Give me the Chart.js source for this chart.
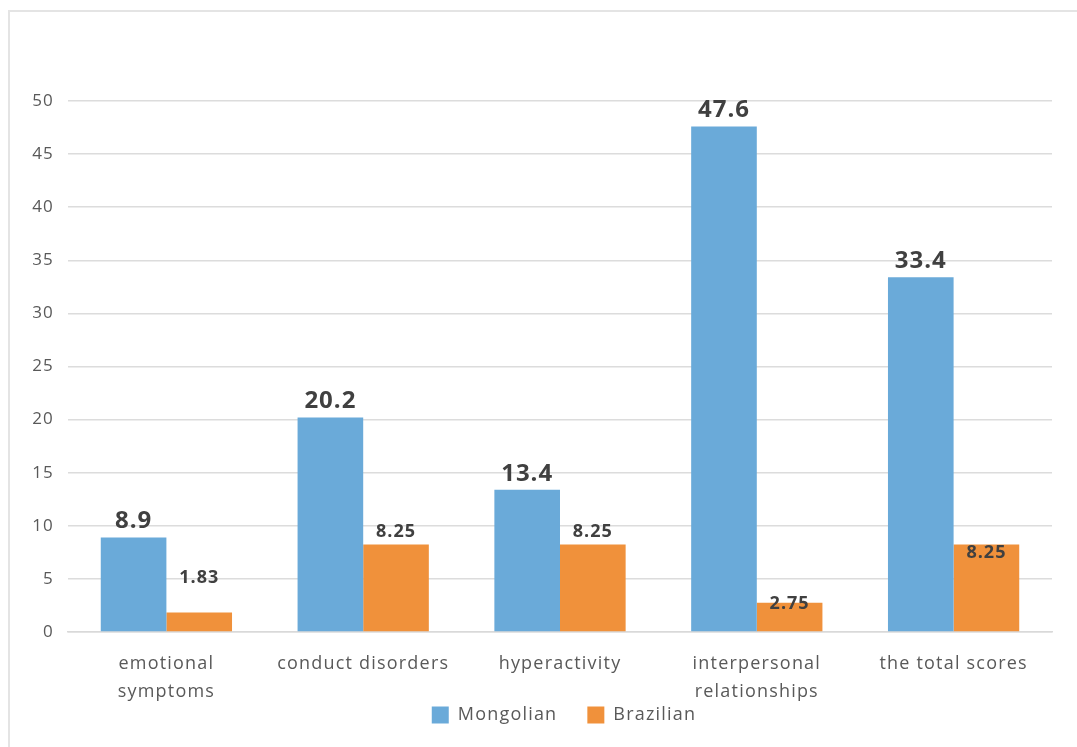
<!DOCTYPE html>
<html>
<head>
<meta charset="utf-8">
<script src="https://cdn.jsdelivr.net/npm/chart.js@4/dist/chart.umd.min.js"></script>
<style>
  html, body { margin: 0; padding: 0; background: #ffffff; }
  #wrap { position: relative; width: 1077px; height: 747px; overflow: hidden; }
  #frame { position: absolute; left: 8px; top: 10px; width: 1090px; height: 760px;
           border-left: 2px solid #e4e4e4; border-top: 2px solid #e4e4e4; box-sizing: border-box; }
  #chart { position: absolute; left: 0; top: 0; }
</style>
</head>
<body>
<div id="wrap">
  <div id="frame"></div>
  <canvas id="chart" width="1077" height="747"></canvas>
</div>
<script>
// Subscale names (multi-line where the axis wraps them)
const categories = [
  ["emotional", "symptoms"],
  "conduct disorders",
  "hyperactivity",
  ["interpersonal", "relationships"],
  "the total scores"
];
// Scores per group
const mongolian = [8.9, 20.2, 13.4, 47.6, 33.4];
const brazilian = [1.83, 8.25, 8.25, 2.75, 8.25];
// Y-axis range and step
const yMin = 0, yMax = 50, yStep = 5;

// Vertical nudge of each value label relative to its bar top (px)
const mongolianLabelShift = [-16, -16, -16, -16, -16];
const brazilianLabelShift = [-35, -13, -13, 1, 8];

const FONT = "'Open Sans', 'Noto Sans', sans-serif";
const TEXT_GREY = "#595959";
const LABEL_DARK = "#404040";
const TRACKING = "1.2px";
const LEGEND_OFFSET_X = 38;

// Slightly wider text tracking for all canvas text, plus small box adjustments
const spacingPlugin = {
  id: "spacing",
  beforeUpdate(chart) { chart.ctx.letterSpacing = TRACKING; },
  beforeDraw(chart) { chart.ctx.letterSpacing = TRACKING; },
  afterLayout(chart) {
    // let the two-line category labels run below the (short) x-axis box
    chart.scales.x.bottom = chart.height;
    // legend sits a little right of the canvas centre
    chart.legend.left += LEGEND_OFFSET_X;
    chart.legend.right += LEGEND_OFFSET_X;
  }
};

// Bold value labels above / on top of each bar
const valueLabels = {
  id: "valueLabels",
  afterDatasetsDraw(chart) {
    const ctx = chart.ctx;
    const specs = [
      { size: 24, shift: mongolianLabelShift },
      { size: 18, shift: brazilianLabelShift }
    ];
    ctx.save();
    ctx.letterSpacing = "1px";
    ctx.fillStyle = LABEL_DARK;
    ctx.textAlign = "center";
    ctx.textBaseline = "middle";
    chart.data.datasets.forEach((ds, di) => {
      const meta = chart.getDatasetMeta(di);
      ctx.font = "bold " + specs[di].size + "px " + FONT;
      meta.data.forEach((bar, i) => {
        ctx.fillText(String(ds.data[i]), bar.x, bar.y + specs[di].shift[i]);
      });
    });
    ctx.restore();
  }
};

new Chart(document.getElementById("chart"), {
  type: "bar",
  data: {
    labels: categories,
    datasets: [
      { label: "Mongolian", data: mongolian, backgroundColor: "#6aaad9",
        categoryPercentage: 0.667, barPercentage: 1.0 },
      { label: "Brazilian", data: brazilian, backgroundColor: "#f0913b",
        categoryPercentage: 0.667, barPercentage: 1.0 }
    ]
  },
  options: {
    responsive: false,
    animation: false,
    devicePixelRatio: 1,
    layout: { padding: { left: 0, right: 25, top: 101, bottom: 13 } },
    plugins: {
      tooltip: { enabled: false },
      legend: {
        position: "bottom",
        labels: {
          boxWidth: 17, boxHeight: 17, padding: 30,
          color: TEXT_GREY,
          font: { family: FONT, size: 18 }
        }
      }
    },
    scales: {
      x: {
        grid: { display: false, drawTicks: false },
        border: { display: true, color: "#d9d9d9", width: 1.5 },
        ticks: {
          color: TEXT_GREY, padding: 18, maxRotation: 0, autoSkip: false,
          font: { family: FONT, size: 18, lineHeight: 1.55 }
        },
        afterFit(scale) { scale.height = 44; }
      },
      y: {
        min: yMin, max: yMax,
        grid: { color: "#dcdcdc", lineWidth: 1.5, drawTicks: false },
        border: { display: false },
        ticks: {
          stepSize: yStep, color: TEXT_GREY, padding: 14,
          font: { family: FONT, size: 17 }
        },
        afterFit(scale) { scale.width = 68; }
      }
    }
  },
  plugins: [spacingPlugin, valueLabels]
});
</script>
</body>
</html>
